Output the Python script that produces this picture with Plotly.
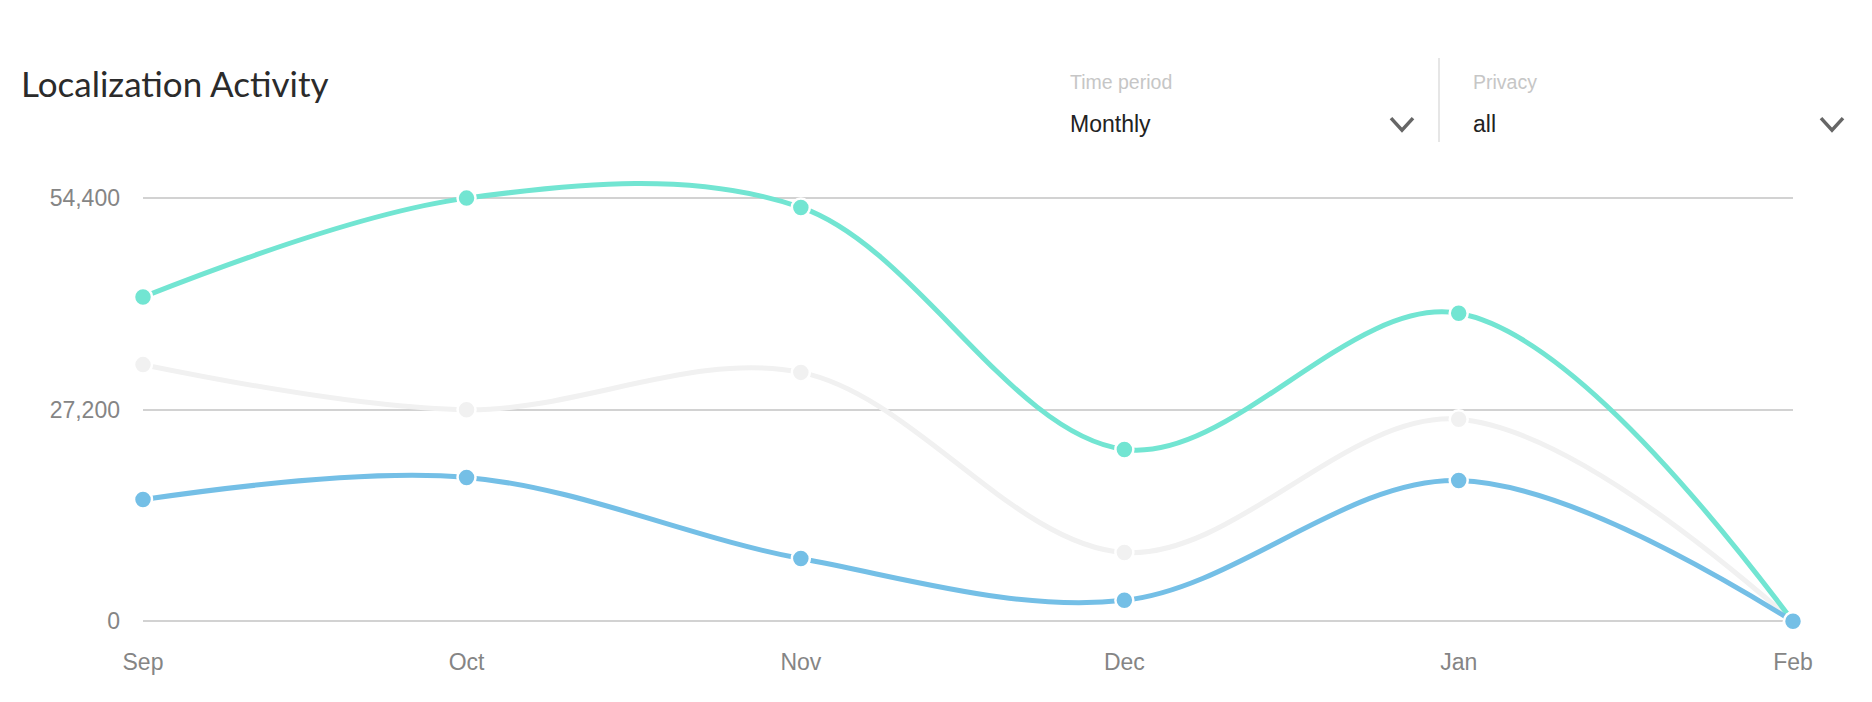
import plotly.graph_objects as go

# ---- data ----
months = ["2016-09-01", "2016-10-01", "2016-11-01", "2016-12-01", "2017-01-01", "2017-02-01"]
month_labels = ["Sep", "Oct", "Nov", "Dec", "Jan", "Feb"]
teal_values = [41700, 54400, 53200, 22100, 39600, 0]
gray_values = [33000, 27200, 32000, 8850, 25980, 0]
blue_values = [15650, 18500, 8070, 2700, 18100, 0]
y_ticks = [0, 27200, 54400]
y_tick_labels = ["0", "27,200", "54,400"]

title_text = "Localization Activity"
filters = [("Time period", "Monthly"), ("Privacy", "all")]

# ---- layout geometry (page pixels; page body has an 8px margin) ----
OFF = 8
W, H = 1872 - OFF, 702 - OFF
X0_PX, X1_PX = 143 - OFF, 1793 - OFF          # Sep .. Feb
Y0_PX, YTOP_PX = 621 - OFF, 198 - OFF          # 0 .. 54400
K = (Y0_PX - YTOP_PX) / 54400.0
Y_MIN, Y_MAX = -600, 62000
plot_top = Y0_PX - Y_MAX * K
plot_bottom = Y0_PX - Y_MIN * K
m_t = plot_top
m_b = H - plot_bottom
m_l = X0_PX
m_r = W - X1_PX
pw = X1_PX - X0_PX
ph = plot_bottom - plot_top


def px_x(px):
    return (px - OFF - X0_PX) / pw


def px_y(py):
    return (plot_bottom - (py - OFF)) / ph


fig = go.Figure()

series = [
    ("Other", gray_values, "#f1f1f1"),
    ("Total", teal_values, "#72e5d2"),
    ("Public", blue_values, "#74bfe6"),
]
for name, vals, col in series:
    fig.add_trace(go.Scatter(
        x=months, y=vals, name=name,
        mode="lines+markers",
        line=dict(color=col, width=5, shape="spline", smoothing=1.0),
        marker=dict(color=col, size=18, line=dict(color="white", width=2.5)),
        cliponaxis=False, showlegend=False,
    ))

fig.update_layout(
    width=W, height=H,
    margin=dict(l=m_l, r=m_r, t=m_t, b=m_b, pad=0),
    paper_bgcolor="white", plot_bgcolor="white",
    font=dict(family="Liberation Sans, Arial, sans-serif"),
    xaxis=dict(
        type="date",
        range=[months[0], months[-1]],
        tickvals=months, ticktext=month_labels,
        showgrid=False, zeroline=False, showline=False, ticks="",
        tickfont=dict(size=23, color="#858585"),
        ticklabelstandoff=20,
    ),
    yaxis=dict(
        range=[Y_MIN, Y_MAX],
        tickvals=y_ticks, ticktext=y_tick_labels,
        showgrid=True, gridcolor="#d2d2d2", gridwidth=2,
        zeroline=False, showline=False, ticks="",
        tickfont=dict(size=23, color="#858585"),
        ticklabelstandoff=22,
    ),
)

annotations = [
    dict(text=title_text, x=px_x(19), y=px_y(83), xref="paper", yref="paper",
         xanchor="left", yanchor="middle", showarrow=False,
         font=dict(family="Lato, sans-serif", size=35, color="#2b2b2b")),
]
shapes = []
filter_x = [1068, 1471]
chev_x = [1402, 1832]
for (label, value), fx, cx in zip(filters, filter_x, chev_x):
    annotations.append(dict(text=label, x=px_x(fx), y=px_y(82), xref="paper", yref="paper",
                            xanchor="left", yanchor="middle", showarrow=False,
                            font=dict(size=19.5, color="#c6c6c6")))
    annotations.append(dict(text=value, x=px_x(fx), y=px_y(124), xref="paper", yref="paper",
                            xanchor="left", yanchor="middle", showarrow=False,
                            font=dict(size=23, color="#222222")))
    path = "M {} {} L {} {} L {} {}".format(
        px_x(cx - 11), px_y(118), px_x(cx), px_y(130), px_x(cx + 11), px_y(118))
    shapes.append(dict(type="path", path=path, xref="paper", yref="paper",
                       line=dict(color="#666666", width=3.5)))

shapes.append(dict(type="line", xref="paper", yref="paper",
                   x0=px_x(1439), x1=px_x(1439), y0=px_y(58), y1=px_y(142),
                   line=dict(color="#dedede", width=1.5)))

fig.update_layout(annotations=annotations, shapes=shapes)
fig.write_html("out.html")
